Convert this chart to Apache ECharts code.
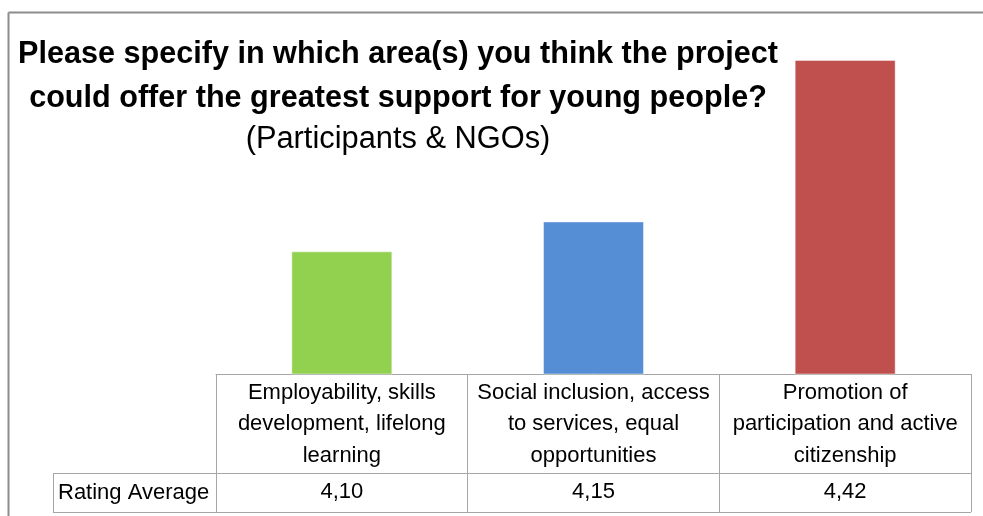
<!DOCTYPE html>
<html>
<head>
<meta charset="utf-8">
<script src="https://cdn.jsdelivr.net/npm/echarts@6/dist/echarts.min.js"></script>
<style>
  html, body { margin: 0; padding: 0; background: #fff; }
  #chart { width: 983px; height: 516px; }
</style>
</head>
<body>
<div id="chart"></div>
<script>
// Survey areas and their rating averages
const categories = [
  'Employability, skills\ndevelopment, lifelong\nlearning',
  'Social inclusion, access\nto services, equal\nopportunities',
  'Promotion of\nparticipation and active\ncitizenship'
];
const ratingAverage = [4.10, 4.15, 4.42];
const barColors = ['#92D050', '#558ED5', '#C0504D'];
const rowLabel = 'Rating Average';

const FONT = '"Liberation Sans Narrow", "Arial Narrow", "Liberation Sans", Arial, sans-serif';
const gridColor = '#A6A6A6';

// European decimal comma for the data table
const fmt = v => v.toFixed(2).replace('.', ',');

const chart = echarts.init(document.getElementById('chart'), null, { renderer: 'canvas' });

const option = {
  backgroundColor: '#fff',
  animation: false,
  title: {
    text: 'Please specify in which area(s) you think the project\ncould offer the greatest support for young people?',
    subtext: '(Participants & NGOs)',
    left: 393,
    top: 28,
    textAlign: 'center',
    itemGap: 0,
    textStyle: { fontFamily: FONT, fontSize: 30.6, fontWeight: 'bold', color: '#000', lineHeight: 44 },
    subtextStyle: { fontFamily: FONT, fontSize: 30.8, color: '#000', lineHeight: 38 }
  },
  grid: { left: 216, right: 12, top: 15, bottom: 142, containLabel: false },
  xAxis: [
    {
      type: 'category',
      data: categories,
      position: 'bottom',
      axisLine: { show: true, lineStyle: { color: gridColor, width: 1 } },
      axisTick: { show: true, interval: 0, length: 138, lineStyle: { color: gridColor, width: 1 } },
      axisLabel: {
        interval: 0, margin: 50, verticalAlign: 'middle',
        fontFamily: FONT, fontSize: 22, color: '#000', lineHeight: 31.5, align: 'center'
      }
    },
    {
      type: 'category',
      data: ratingAverage.map(fmt),
      position: 'bottom',
      axisLine: { show: false },
      axisTick: { show: false },
      axisLabel: {
        interval: 0, margin: 118, verticalAlign: 'middle',
        fontFamily: FONT, fontSize: 22, color: '#000'
      }
    }
  ],
  yAxis: {
    type: 'value',
    min: 3.895,
    max: 4.495,
    show: false,
    splitLine: { show: false }
  },
  series: [
    {
      type: 'bar',
      xAxisIndex: 0,
      barWidth: 101,
      data: ratingAverage.map((v, i) => ({
        value: v,
        itemStyle: { color: barColors[i], borderColor: 'rgba(255,255,255,0.45)', borderWidth: 1 }
      }))
    }
  ]
};

chart.setOption(option);

// Data-table frame below the plot, tied to the grid geometry
const gridRect = chart.getModel().getComponent('grid').coordinateSystem.getRect();
const axisY = gridRect.y + gridRect.height;
const rowTop = axisY + 99;
const rowBottom = axisY + 138;
const tableLeft = 53;
const tableRight = gridRect.x + gridRect.width;
const line = (x1, y1, x2, y2, color, w) => ({
  type: 'line',
  shape: { x1, y1, x2, y2 },
  style: { stroke: color, lineWidth: w || 1 },
  silent: true
});

chart.setOption({
  graphic: [
    // outer chart border
    line(8.5, 12.5, 983, 12.5, '#8C8C8C', 2),
    line(8.5, 12.5, 8.5, 516, '#8C8C8C', 2),
    // table rows
    line(tableLeft, rowTop + 0.5, tableRight, rowTop + 0.5, gridColor),
    line(tableLeft, rowBottom + 0.5, tableRight, rowBottom + 0.5, gridColor),
    line(tableLeft + 0.5, rowTop, tableLeft + 0.5, rowBottom, gridColor),
    {
      type: 'text',
      x: tableLeft + 5,
      y: (rowTop + rowBottom) / 2,
      style: { text: rowLabel, font: '22px ' + FONT, fill: '#000', textVerticalAlign: 'middle', verticalAlign: 'middle' },
      silent: true
    }
  ]
});
</script>
</body>
</html>
